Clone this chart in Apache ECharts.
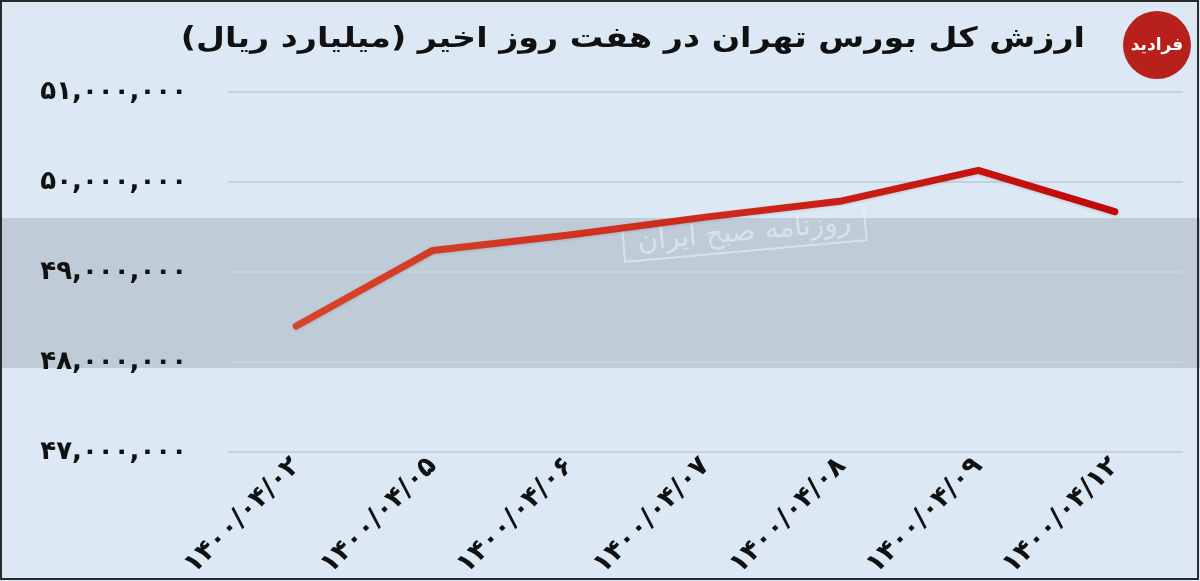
<!DOCTYPE html>
<html>
<head>
<meta charset="utf-8">
<script src="https://cdn.jsdelivr.net/npm/echarts@6/dist/echarts.min.js"></script>
<style>
html,body{margin:0;padding:0;background:#dce9f4;}
#main{width:1200px;height:581px;}
</style>
</head>
<body>
<div id="main"></div>
<script>
const titleText = 'ارزش کل بورس تهران در هفت روز اخیر (میلیارد ریال)';
const categories = ['۱۴۰۰/۰۴/۰۲','۱۴۰۰/۰۴/۰۵','۱۴۰۰/۰۴/۰۶','۱۴۰۰/۰۴/۰۷','۱۴۰۰/۰۴/۰۸','۱۴۰۰/۰۴/۰۹','۱۴۰۰/۰۴/۱۲'];
const values = [48400000, 49240000, 49410000, 49610000, 49790000, 50130000, 49670000];
const yTicks = [47000000, 48000000, 49000000, 50000000, 51000000];

const faDigits = '۰۱۲۳۴۵۶۷۸۹';
function toFa(n){
  return n.toLocaleString('en-US').replace(/[0-9]/g, d => faDigits[+d]);
}

const chart = echarts.init(document.getElementById('main'));
const FONT = '"DejaVu Sans", sans-serif';
chart.setOption({
  backgroundColor: '#dce9f4',
  animation: false,
  graphic: [
    {type:'rect', z:-10, shape:{x:0,y:218,width:1200,height:150}, style:{fill:'#bfccd7'}},
    {type:'text', z:-5, rotation:0.09, x:622, y:226,
      style:{text:'روزنامه صبح ایران', font:'28px "DejaVu Sans"', fill:'rgba(232,240,247,0.6)',
        padding:[4,14], borderColor:'rgba(232,240,247,0.6)', borderWidth:2}},
    {type:'circle', shape:{cx:1157,cy:45,r:34}, style:{fill:'#b8201c'}},
    {type:'text', x:1157, y:46, style:{text:'فرادید', font:'bold 17px "DejaVu Sans"', fill:'#ffffff', align:'center', verticalAlign:'middle'}},
    {type:'text', x:1085, y:40, scaleX:1.19, originX:0, originY:0,
      style:{text:titleText, font:'bold 28px "DejaVu Sans"', fill:'#111111', align:'right', verticalAlign:'middle'}},
    {type:'rect', shape:{x:1,y:1,width:1197,height:578}, style:{fill:null, stroke:'#2a2a2a', lineWidth:2}}
  ],
  grid: {left:228, right:17, top:92, bottom:129},
  xAxis: {
    type:'category',
    data: categories,
    boundaryGap: true,
    axisLine:{show:false},
    axisTick:{show:false},
    axisLabel:{rotate:45, margin:10, color:'#111', fontFamily:FONT, fontWeight:'bold', fontSize:27}
  },
  yAxis: {
    type:'value',
    min:47000000, max:51000000, interval:1000000,
    axisLine:{show:false},
    axisTick:{show:false},
    splitLine:{lineStyle:{color:'#c5d3de', width:2}},
    axisLabel:{margin:41, color:'#111', fontFamily:FONT, fontWeight:'bold', fontSize:26,
      formatter: v => toFa(v)}
  },
  series: [{
    type:'line',
    data: values,
    symbol:'none',
    lineStyle:{width:7, cap:'round', join:'round',
      shadowColor:'rgba(0,0,0,0.15)', shadowBlur:3, shadowOffsetY:1,
      color:{type:'linear', x:0, y:0, x2:1, y2:0, colorStops:[
        {offset:0, color:'#d9442a'},{offset:0.5,color:'#cc2a1c'},{offset:1, color:'#c20808'}]}}
  }]
});
</script>
</body>
</html>
